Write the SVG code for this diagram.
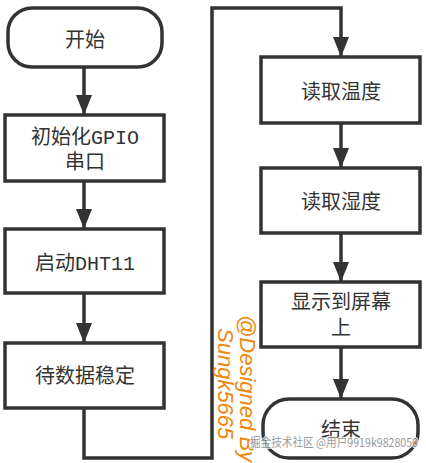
<svg xmlns="http://www.w3.org/2000/svg" width="426" height="463" viewBox="0 0 426 463">
<defs>
<style>
.shape{fill:#fff;stroke:#333;stroke-width:3.5}
.lbl{font-family:"Liberation Mono","Noto Sans CJK SC",monospace;font-size:20px;fill:#333;text-anchor:middle}
.conn{fill:none;stroke:#333;stroke-width:3.5}
.wm{font-family:"Liberation Sans",Arial,sans-serif;font-style:italic;font-size:22px;fill:#F0870A}
</style>
<marker id="arr" markerUnits="userSpaceOnUse" markerWidth="20" markerHeight="16" refX="19" refY="8" orient="auto">
<path d="M0,0 L20,8 L0,16 z" fill="#333"/>
</marker>
</defs>
<rect width="426" height="463" fill="#fff"/>
<g id="connectors">
<line class="conn" x1="84" y1="67" x2="84" y2="114" marker-end="url(#arr)"/>
<line class="conn" x1="84" y1="181" x2="84" y2="228" marker-end="url(#arr)"/>
<line class="conn" x1="84" y1="293" x2="84" y2="342" marker-end="url(#arr)"/>
<path class="conn" d="M84,408 V458 H212 V8 H341 V56" marker-end="url(#arr)"/>
<line class="conn" x1="341" y1="123" x2="341" y2="167" marker-end="url(#arr)"/>
<line class="conn" x1="341" y1="233" x2="341" y2="281" marker-end="url(#arr)"/>
<line class="conn" x1="341" y1="347" x2="341" y2="398" marker-end="url(#arr)"/>
</g>
<g id="start">
<rect class="shape" x="8" y="8" width="154" height="59" rx="24" ry="24"/>
<text class="lbl" x="85" y="47">开始</text>
</g>
<g id="init">
<rect class="shape" x="5" y="115" width="159" height="66"/>
<text class="lbl" x="85" y="144">初始化GPIO</text>
<text class="lbl" x="85" y="169">串口</text>
</g>
<g id="dht">
<rect class="shape" x="5" y="229" width="159" height="64"/>
<text class="lbl" x="85" y="270">启动DHT11</text>
</g>
<g id="wait">
<rect class="shape" x="5" y="343" width="159" height="65"/>
<text class="lbl" x="85" y="383">待数据稳定</text>
</g>
<g id="temp">
<rect class="shape" x="261" y="57" width="159" height="66"/>
<text class="lbl" x="341" y="99">读取温度</text>
</g>
<g id="hum">
<rect class="shape" x="261" y="168" width="159" height="65"/>
<text class="lbl" x="341" y="209">读取湿度</text>
</g>
<g id="show">
<rect class="shape" x="261" y="282" width="159" height="65"/>
<text class="lbl" x="341" y="309">显示到屏幕</text>
<text class="lbl" x="341" y="335">上</text>
</g>
<g id="end">
<rect class="shape" x="263" y="399" width="155" height="59" rx="26" ry="26"/>
<text class="lbl" x="341" y="437">结束</text>
</g>
<g id="signature">
<text class="wm" transform="translate(240,315) rotate(90)">@Designed By</text>
<text class="wm" transform="translate(218,328) rotate(90)">Sungk5665</text>
</g>
<text x="250" y="447" textLength="168" lengthAdjust="spacingAndGlyphs" font-family="'Noto Sans CJK SC',sans-serif" font-size="12" fill="#888" stroke="#fff" stroke-width="2" paint-order="stroke" opacity="0.85">掘金技术社区 @用户9919k9828050</text>
</svg>
